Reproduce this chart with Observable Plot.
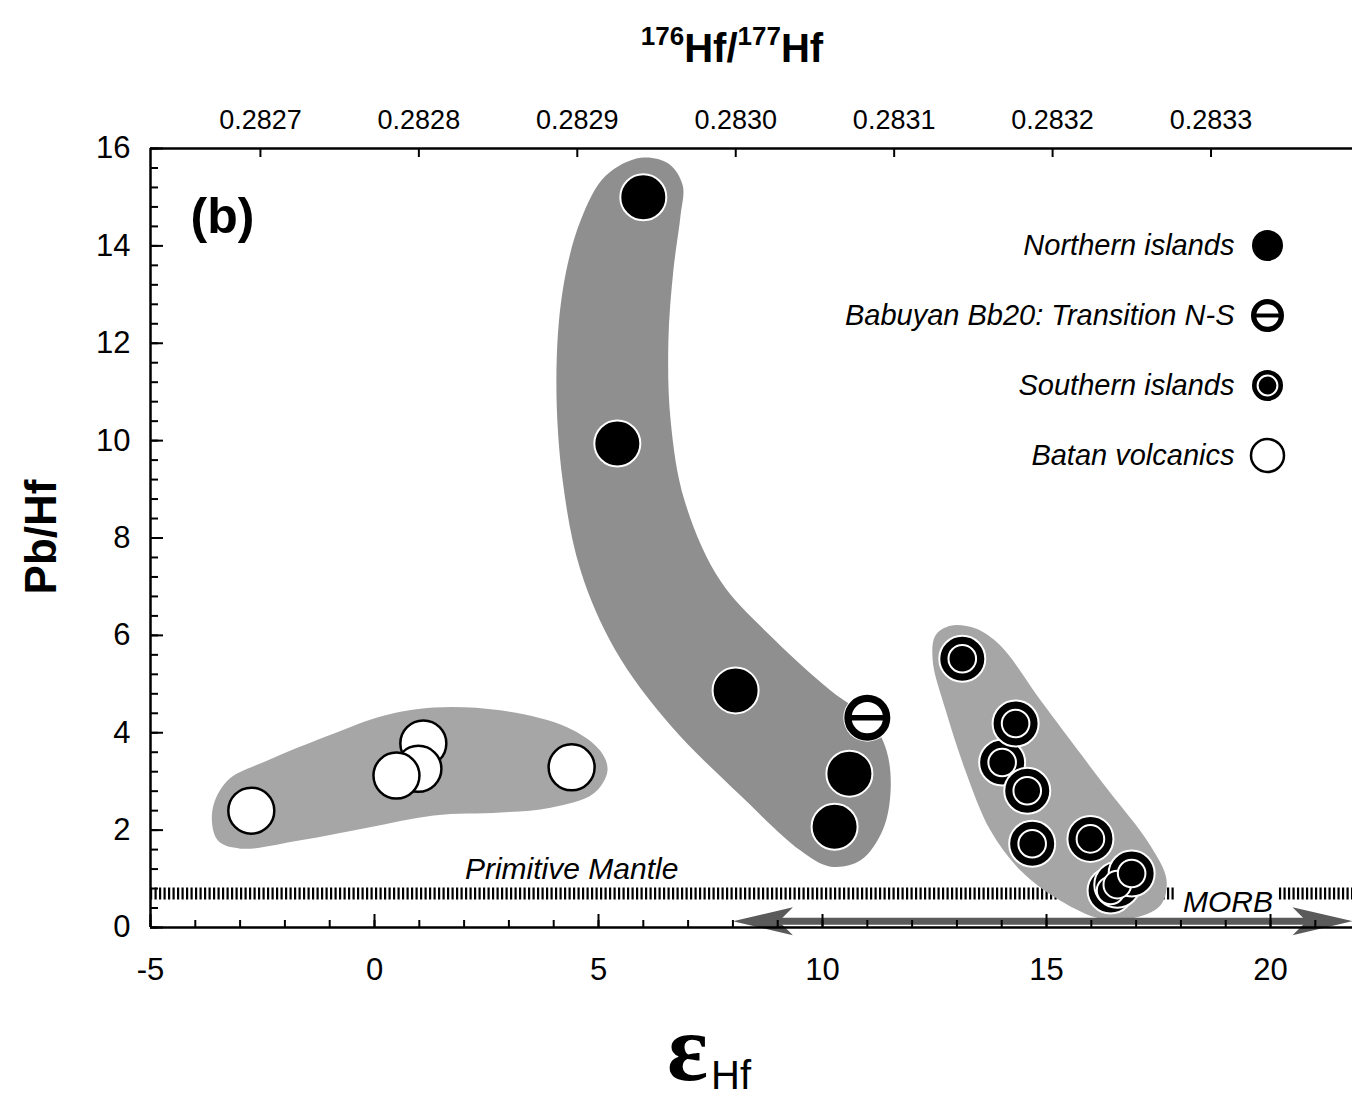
<!DOCTYPE html>
<html><head><meta charset="utf-8">
<script src="https://cdn.jsdelivr.net/npm/d3@7"></script>
<script src="https://cdn.jsdelivr.net/npm/@observablehq/plot@0.6"></script>
<style>
html,body{margin:0;padding:0;background:#fff;}
#chart{width:1352px;height:1101px;overflow:hidden;}
</style></head><body><div id="chart"></div>
<script>
// ---------- data (εHf, Pb/Hf) ----------
const northernEps   = [6.0, 5.42, 8.06, 10.6, 10.27];
const northernPbHf  = [15.0, 9.94, 4.87, 3.16, 2.07];
const babuyanEps    = [11.0];
const babuyanPbHf   = [4.31];
const southernEps   = [13.12, 14.01, 14.31, 14.57, 14.68, 15.98, 16.43, 16.58, 16.90];
const southernPbHf  = [5.52, 3.39, 4.19, 2.81, 1.72, 1.82, 0.76, 0.88, 1.11];
const batanEps      = [-2.75, 1.09, 0.98, 0.49, 4.40];
const batanPbHf     = [2.40, 3.78, 3.26, 3.12, 3.29];

// hand-drawn group envelopes (εHf, Pb/Hf vertices)
const batanEnvelope = [[1.32,4.52],[2.81,4.46],[4.31,4.11],[5.04,3.63],[5.20,3.22],[4.89,2.75],[3.93,2.46],[2.81,2.36],[1.32,2.30],[-0.16,2.05],[-1.65,1.79],[-2.99,1.62],[-3.50,1.79],[-3.62,2.40],[-3.28,3.02],[-2.39,3.43],[-0.92,3.98],[0.20,4.35]];
const northernEnvelope = [[5.94,15.81],[6.56,15.69],[6.88,15.24],[6.83,14.62],[6.67,13.49],[6.56,12.05],[6.61,10.41],[6.92,8.77],[7.72,7.12],[8.95,5.89],[10.18,4.87],[11.07,4.25],[11.43,3.63],[11.52,2.81],[11.34,1.99],[10.85,1.38],[10.18,1.25],[9.51,1.58],[8.17,2.71],[6.61,4.15],[5.38,5.69],[4.60,7.33],[4.20,9.18],[4.06,11.23],[4.20,13.08],[4.60,14.52],[5.16,15.44]];
const southernEnvelope = [[12.86,6.20],[13.42,6.14],[13.97,5.79],[14.87,4.66],[16.21,3.02],[17.32,1.68],[17.68,0.97],[17.54,0.45],[16.88,0.18],[16.21,0.18],[15.31,0.55],[14.42,1.17],[13.75,1.99],[13.19,3.22],[12.75,4.46],[12.46,5.48],[12.52,6.00]];

// reference values
const primitiveMantlePbHf = 0.7;
const primitiveMantleGaps = [[-5, 17.9], [20.2, 21.83]];
const morbEpsRange = [8.0, 21.83];
const morbPbHf = 0.13;

// axes
const xTicks = [-5, 0, 5, 10, 15, 20];
const xMinor = d3.range(-5, 22, 1);
const yTicks = [0, 2, 4, 6, 8, 10, 12, 14, 16];
const yMinor = d3.range(0, 80.5, 2).map(v => v / 5);
const CHUR = 0.282772;
const hfRatioTicks = [0.2827, 0.2828, 0.2829, 0.2830, 0.2831, 0.2832, 0.2833];
const toEps = r => (r / CHUR - 1) * 1e4;
const toRatio = e => CHUR * (1 + e / 1e4);

const legendLabels = ["Northern islands", "Babuyan Bb20: Transition N-S", "Southern islands", "Batan volcanics"];
const legendKinds = ["northern", "babuyan", "southern", "batan"];

// ---------- helpers ----------
const pts = (xs, ys) => xs.map((x, i) => ({x, y: ys[i]}));
const barSymbol = {draw(ctx, size) { const r = Math.sqrt(size / Math.PI); ctx.moveTo(-r, 0); ctx.lineTo(r, 0); }};
const arrowHead = {draw(ctx) { ctx.moveTo(0, 0); ctx.lineTo(-60, -14); ctx.lineTo(-46, 0); ctx.lineTo(-60, 14); ctx.closePath(); }};

function symbolMarks(kind, data, R, pos) {
  const p = pos || {x: "x", y: "y"};
  if (kind === "northern") return [Plot.dot(data, {...p, r: R, fill: "black", stroke: "white", strokeWidth: 2})];
  if (kind === "batan") return [Plot.dot(data, {...p, r: R, fill: "white", stroke: "black", strokeWidth: 2.5})];
  if (kind === "southern") return [
    Plot.dot(data, {...p, r: R, fill: "black", stroke: "white", strokeWidth: 2}),
    Plot.dot(data, {...p, r: R * 0.6, fill: "black", stroke: "white", strokeWidth: 2})
  ];
  // babuyan
  const ring = R * 0.32;
  return [
    Plot.dot(data, {...p, r: R + 1, fill: "white", stroke: "none"}),
    Plot.dot(data, {...p, r: R - ring / 2, fill: "white", stroke: "black", strokeWidth: ring}),
    Plot.dot(data, {...p, r: R - ring / 2, symbol: barSymbol, fill: "none", stroke: "black", strokeWidth: R * 0.24})
  ];
}

const sansFont = "'Liberation Sans',Arial,Helvetica,sans-serif";

const legendMarks = legendKinds.flatMap((kind, i) => {
  const dy = 97 + i * 70;
  return [
    ...symbolMarks(kind, [legendLabels[i]], 16.5, {frameAnchor: "top-right", dx: -85, dy}),
    Plot.text([legendLabels[i]], {frameAnchor: "top-right", dx: -118, dy, text: d => d, textAnchor: "end", lineAnchor: "middle",
      fontSize: 29, fontStyle: "italic", fontFamily: sansFont, fill: "black"})
  ];
});

const envelope = (data, fill) => Plot.line(data, {x: d => d[0], y: d => d[1], curve: "catmull-rom-closed", fill, stroke: "none"});

const svg = Plot.plot({
  width: 1352, height: 1101,
  marginLeft: 150, marginRight: 0, marginTop: 148, marginBottom: 174,
  x: {domain: [-5, 21.83]},
  y: {domain: [0, 16]},
  style: {background: "white", color: "black", fontFamily: sansFont},
  marks: [
    // Primitive Mantle hatched reference
    Plot.ruleY(primitiveMantleGaps, {y: () => primitiveMantlePbHf, x1: d => d[0], x2: d => d[1], stroke: "black", strokeWidth: 12, strokeDasharray: "2.2,2.3"}),
    // envelopes
    envelope(batanEnvelope, "#a6a6a6"),
    envelope(northernEnvelope, "#8f8f8f"),
    envelope(southernEnvelope, "#a6a6a6"),
    // MORB arrow
    Plot.ruleY([morbPbHf], {x1: morbEpsRange[0], x2: morbEpsRange[1], stroke: "#5a5a5a", strokeWidth: 7, insetLeft: 30, insetRight: 30}),
    Plot.dot(morbEpsRange, {x: d => d, y: () => morbPbHf, symbol: arrowHead, r: 10, fill: "#5a5a5a", stroke: "none", rotate: (d, i) => i === 0 ? 180 : 0}),
    // labels
    Plot.text(["Primitive Mantle"], {x: () => 4.4, y: () => primitiveMantlePbHf, dy: -14, text: d => d, lineAnchor: "bottom", fontSize: 30, fontStyle: "italic", fontFamily: sansFont, fill: "black"}),
    Plot.text(["MORB"], {x: () => 19.05, y: () => morbPbHf, dy: -9, text: d => d, lineAnchor: "bottom", fontSize: 30, fontStyle: "italic", fontFamily: sansFont, fill: "black"}),
    Plot.text(["(b)"], {frameAnchor: "top-left", dx: 40, dy: 84, text: d => d, textAnchor: "start", lineAnchor: "bottom", fontSize: 50, fontWeight: "bold", fontFamily: sansFont, fill: "black"}),
    // data points
    ...symbolMarks("batan", pts(batanEps, batanPbHf), 23),
    ...symbolMarks("northern", pts(northernEps, northernPbHf), 23),
    ...symbolMarks("babuyan", pts(babuyanEps, babuyanPbHf), 23),
    ...symbolMarks("southern", pts(southernEps, southernPbHf), 23),
    ...legendMarks,
    // axes
    Plot.axisX({anchor: "bottom", label: null, ticks: xMinor, tickSize: -7, strokeWidth: 2, text: null}),
    Plot.axisX({anchor: "bottom", label: null, ticks: xTicks, tickSize: -13, strokeWidth: 2, text: null}),
    Plot.axisX({anchor: "bottom", label: null, ticks: xTicks, tickSize: 0, tickPadding: 30, fontSize: 31, fontFamily: sansFont, tickFormat: d => String(d)}),
    Plot.axisY({anchor: "left", label: null, ticks: yMinor, tickSize: -8, strokeWidth: 2, text: null}),
    Plot.axisY({anchor: "left", label: null, ticks: yTicks, tickSize: -13, strokeWidth: 2, text: null}),
    Plot.axisY({anchor: "left", label: null, ticks: yTicks, tickSize: 0, tickPadding: 20, fontSize: 31, fontFamily: sansFont, tickFormat: d => String(d)}),
    Plot.axisX({anchor: "top", label: null, ticks: hfRatioTicks.map(toEps), tickSize: -8, strokeWidth: 2, text: null}),
    Plot.axisX({anchor: "top", label: null, ticks: hfRatioTicks.map(toEps), tickSize: 0, tickPadding: 20, fontSize: 27, fontFamily: sansFont, tickFormat: d => toRatio(d).toFixed(4)}),
    // frame
    Plot.ruleX([-5], {stroke: "black", strokeWidth: 2.5}),
    Plot.ruleY([0], {stroke: "black", strokeWidth: 2.5}),
    Plot.ruleY([16], {stroke: "black", strokeWidth: 2.5})
  ]
});

// titles with super/subscripts
const s = d3.select(svg);
const title = s.append("text").attr("x", 732).attr("y", 62).attr("text-anchor", "middle")
  .attr("font-family", sansFont).attr("font-weight", "bold").attr("font-size", 40).attr("fill", "black");
title.append("tspan").attr("font-size", 26).attr("dy", -17).text("176");
title.append("tspan").attr("dy", 17).text("Hf/");
title.append("tspan").attr("font-size", 26).attr("dy", -17).text("177");
title.append("tspan").attr("dy", 17).text("Hf");

s.append("text").attr("transform", "translate(56,537) rotate(-90)").attr("text-anchor", "middle")
  .attr("font-family", sansFont).attr("font-weight", "bold").attr("font-size", 44).attr("fill", "black").text("Pb/Hf");

const xl = s.append("text").attr("x", 667).attr("y", 1080).attr("text-anchor", "start").attr("fill", "black");
xl.append("tspan").attr("font-family", "'Liberation Serif','Times New Roman',serif").attr("font-weight", "bold").attr("font-size", 96).text("ε");
xl.append("tspan").attr("font-family", sansFont).attr("font-size", 40).attr("dy", 9).attr("dx", 3).text("Hf");

document.getElementById("chart").appendChild(svg);
</script></body></html>
